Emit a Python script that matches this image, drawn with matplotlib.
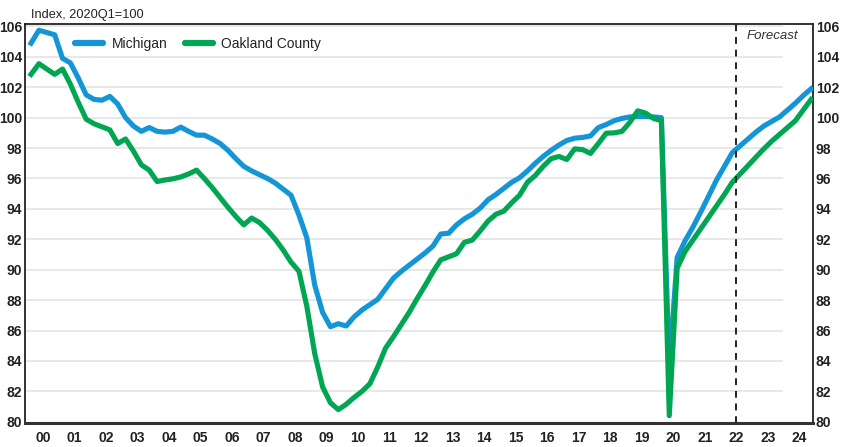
import numpy as np
import matplotlib
matplotlib.use("Agg")
from matplotlib import pyplot as plt

# quarterly index, 2000Q1 .. 2024Q4 (2020Q1 = 100)
michigan = [
    104.9, 105.75, 105.6, 105.45, 103.9, 103.6, 102.6, 101.5,
    101.2, 101.15, 101.4, 100.9, 100.0, 99.45, 99.1, 99.35,
    99.1, 99.05, 99.1, 99.38, 99.1, 98.85, 98.85, 98.6,
    98.3, 97.85, 97.3, 96.8, 96.5, 96.25, 96.0, 95.7,
    95.3, 94.9, 93.6, 92.1, 89.0, 87.2, 86.25, 86.45,
    86.3, 86.9, 87.35, 87.7, 88.05, 88.75, 89.45, 89.9,
    90.3, 90.7, 91.1, 91.55, 92.35, 92.4, 92.95, 93.35,
    93.65, 94.05, 94.6, 94.95, 95.35, 95.75, 96.05, 96.5,
    97.0, 97.45, 97.85, 98.2, 98.5, 98.65, 98.7, 98.8,
    99.35, 99.55, 99.8, 99.95, 100.05, 100.07, 100.07, 100.05,
    100.0, 83.5, 90.8, 91.9, 92.8, 93.8, 94.85, 95.9,
    96.8, 97.7, 98.15, 98.6, 99.05, 99.45, 99.75, 100.05,
    100.5, 100.95, 101.45, 101.9,
]
oakland = [
    102.85, 103.55, 103.2, 102.85, 103.2, 102.2, 101.0, 99.9,
    99.6, 99.4, 99.2, 98.3, 98.6, 97.8, 96.9, 96.55,
    95.8, 95.9, 95.98, 96.1, 96.3, 96.55, 96.0, 95.4,
    94.75, 94.1, 93.5, 92.95, 93.4, 93.1, 92.6, 92.0,
    91.3, 90.5, 89.9, 87.6, 84.5, 82.3, 81.25, 80.8,
    81.15, 81.6, 82.0, 82.5, 83.6, 84.85, 85.6, 86.4,
    87.2, 88.1, 88.95, 89.85, 90.65, 90.85, 91.05, 91.8,
    91.95, 92.55, 93.2, 93.65, 93.85, 94.4, 94.9, 95.75,
    96.2, 96.8, 97.3, 97.45, 97.25, 97.95, 97.9, 97.65,
    98.3, 98.98, 99.0, 99.1, 99.7, 100.45, 100.3, 99.95,
    99.8, 80.4, 90.1, 91.2, 91.95, 92.7, 93.45, 94.2,
    94.95, 95.75, 96.3, 96.85, 97.4, 97.95, 98.45, 98.9,
    99.35, 99.8, 100.5, 101.2,
]
year_labels = ["%02d" % y for y in range(0, 25)]
forecast_start = 89.5  # quarter index where the forecast begins

blue = "#1496d6"
green = "#00a651"
ink = "#222222"

plt.rcParams["font.family"] = ["Liberation Sans", "DejaVu Sans"]

fig = plt.figure(figsize=(8.43, 4.47), dpi=100)
ax = fig.add_axes([0.0297, 0.0537, 0.9347, 0.8919])

q = np.arange(len(michigan))
ax.set_xlim(-0.76, 99.24)
ax.set_ylim(79.92, 106.14)

# gridlines stop short of the right frame
yticks = list(range(80, 107, 2))
ax.hlines(yticks[1:], -0.76, 95.4, color="#e4e4e4", lw=1.2, zorder=1)

ax.plot(q, michigan, color=blue, lw=3.7, label="Michigan", zorder=3)
ax.plot(q, oakland, color=green, lw=3.7, label="Oakland County", zorder=4)

ax.axvline(forecast_start, color=ink, lw=1.4, ls=(0, (3.5, 3)), zorder=5)
ax.text(97.3, 105.4, "Forecast", ha="right", va="center", style="italic",
        fontsize=9.5, color="#333333")

ax.set_yticks(yticks)
ax.set_yticklabels([str(v) for v in yticks])
ax.set_xticks(1.5 + 4 * np.arange(25))
ax.set_xticklabels(year_labels)
ax.tick_params(axis="both", length=0, labelsize=10, labelcolor=ink)
ax.tick_params(axis="y", labelright=True, pad=2)
ax.tick_params(axis="x", pad=6)
for lab in ax.get_xticklabels():
    lab.set_fontweight("bold")
for tk in ax.yaxis.get_major_ticks():
    tk.label1.set_fontweight("bold")
    tk.label2.set_fontweight("bold")

for side in ["left", "right", "top"]:
    ax.spines[side].set_linewidth(1.3)
    ax.spines[side].set_color(ink)
ax.spines["bottom"].set_linewidth(2.2)
ax.spines["bottom"].set_color("#333333")

fig.text(0.037, 0.966, "Index, 2020Q1=100", ha="left", va="center",
         fontsize=9.2, color=ink)

leg = ax.legend(loc="upper left", bbox_to_anchor=(0.048, 1.0), ncol=2,
                frameon=False, handlelength=2.0, handletextpad=0.6,
                columnspacing=1.3, prop={"size": 10})
for line in leg.get_lines():
    line.set_linewidth(4.5)
    line.set_solid_capstyle("round")
for t in leg.get_texts():
    t.set_color(ink)

fig.savefig("out.png", dpi=100)
